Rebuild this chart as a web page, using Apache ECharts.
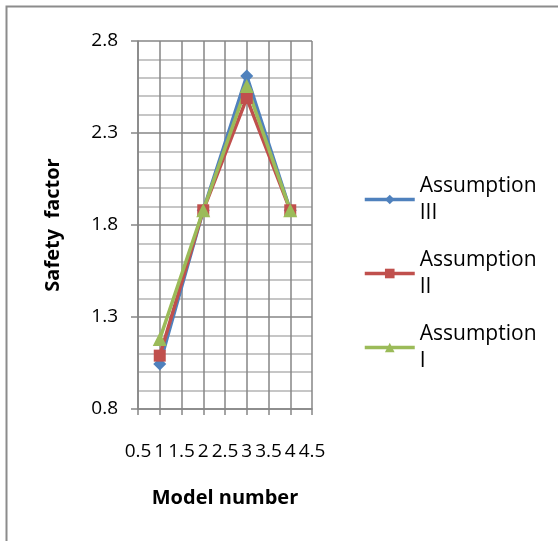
<!DOCTYPE html>
<html>
<head>
<meta charset="utf-8">
<script src="https://cdn.jsdelivr.net/npm/echarts@6/dist/echarts.min.js"></script>
<style>
html,body{margin:0;padding:0;background:#fff;}
#chart{width:558px;height:541px;}
</style>
</head>
<body>
<div id="chart"></div>
<script>
var modelNumbers = [1, 2, 3, 4];
var assumptionIII = [1.045, 1.88, 2.61, 1.88];
var assumptionII = [1.09, 1.88, 2.49, 1.88];
var assumptionI = [1.18, 1.88, 2.555, 1.88];
var seriesNames = ['Assumption III', 'Assumption II', 'Assumption I'];
var seriesColors = ['#4F81BD', '#C0504D', '#9BBB59'];
var seriesSymbols = ['diamond', 'rect', 'triangle'];
var seriesData = [assumptionIII, assumptionII, assumptionI];

var font = 'Open Sans';
var chart = echarts.init(document.getElementById('chart'));
var series = seriesData.map(function (vals, i) {
  return {
    name: seriesNames[i],
    type: 'line',
    data: vals.map(function (v, j) { return [modelNumbers[j], v]; }),
    symbol: seriesSymbols[i],
    symbolSize: i === 0 ? 13 : (i === 1 ? 12 : 14),
    showSymbol: true,
    lineStyle: { width: 3.5, color: seriesColors[i] },
    itemStyle: { color: seriesColors[i] },
    animation: false
  };
});
chart.setOption({
  animation: false,
  backgroundColor: '#fff',
  grid: { left: 138, right: 246, top: 41, bottom: 132 },
  graphic: [{
    type: 'rect', left: 4, top: 4, z: -1,
    shape: { x: 0, y: 0, width: 600, height: 536 },
    style: { fill: 'none', stroke: '#8c8c8c', lineWidth: 2 }
  }],
  legend: {
    left: 358, top: 154,
    orient: 'vertical',
    itemWidth: 50, itemHeight: 12,
    itemGap: -7,
    data: seriesNames,
    lineStyle: { width: 3.5 },
    formatter: function (n) { return n.replace(' ', '\n'); },
    textStyle: { fontFamily: font, fontSize: 21, color: '#000', lineHeight: 27, padding: [27, 0, 0, 0] }
  },
  xAxis: {
    type: 'value', min: 0.5, max: 4.5, interval: 0.5,
    name: 'Model number', nameLocation: 'middle', nameGap: 79,
    nameTextStyle: { fontFamily: font, fontSize: 20, fontWeight: 'bold', color: '#000' },
    axisLine: { show: true, lineStyle: { color: '#868686', width: 1.5 } },
    axisTick: { show: true, length: 6, lineStyle: { color: '#868686', width: 1.5 } },
    axisLabel: { fontFamily: font, fontSize: 19, color: '#000', margin: 33, hideOverlap: false, showMinLabel: true, showMaxLabel: true },
    splitLine: { show: true, lineStyle: { color: '#868686', width: 1.5 } }
  },
  yAxis: {
    type: 'value', min: 0.8, max: 2.8, interval: 0.5,
    name: 'Safety  factor', nameLocation: 'middle', nameGap: 75, nameRotate: 90,
    nameTextStyle: { fontFamily: font, fontSize: 20, fontWeight: 'bold', color: '#000' },
    axisLine: { show: true, lineStyle: { color: '#868686', width: 1.5 } },
    axisTick: { show: true, length: 7, lineStyle: { color: '#868686', width: 1.5 } },
    axisLabel: { fontFamily: font, fontSize: 19, color: '#000', margin: 20, formatter: function (v) { return v.toFixed(1); } },
    splitLine: { show: true, lineStyle: { color: '#868686', width: 1.5 } },
    minorTick: { show: false, splitNumber: 5 },
    minorSplitLine: { show: true, lineStyle: { color: '#c6c6c6', width: 2 } }
  },
  series: series
});
</script>
</body>
</html>
